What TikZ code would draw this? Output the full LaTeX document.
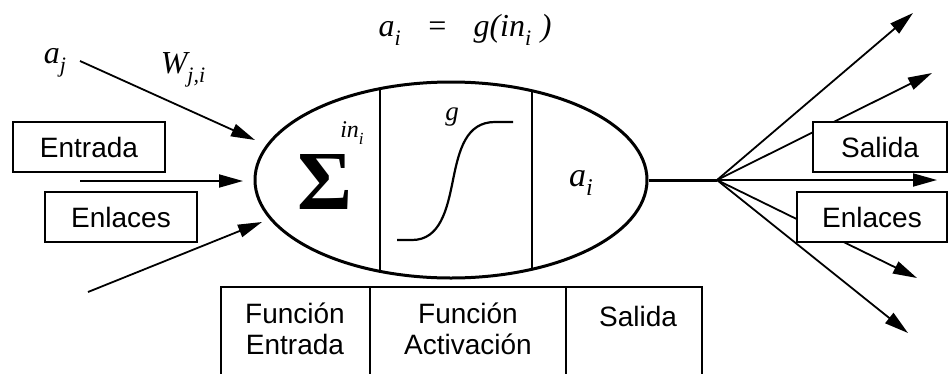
\documentclass[tikz,border=0pt]{standalone}
\usepackage{fontspec}
\setmainfont{Liberation Sans}
\newfontfamily\tms{Liberation Serif}
\newcommand{\low}[2][22]{\raisebox{-0.28em}{\fontsize{#1}{#1}\selectfont #2}}
\usetikzlibrary{arrows.meta,positioning,shapes.geometric}

\begin{document}
\begin{tikzpicture}[
  x=1pt, y=-1pt,
  font=\fontsize{28}{31}\selectfont,
  sym/.style={font=\fontsize{32}{32}\selectfont\tms\itshape, inner sep=0pt},
  box/.style={draw, fill=white, line width=1.5pt, minimum height=50pt, inner sep=0pt},
  cell/.style={align=center, inner sep=0pt},
  body/.style={draw, ellipse, line width=3pt, minimum width=392pt, minimum height=196pt, inner sep=0pt},
  link/.style={-{Triangle[length=24pt,width=13pt]}, line width=1.8pt},
  rule/.style={line width=1.5pt}
]
\useasboundingbox (0,0) rectangle (948,373);

% neuron body
\node[body] (neuron) at (451,180) {};
\draw[rule] ([shift={(-71,-91)}]neuron.center) -- ++(0,182);
\draw[rule] ([shift={(81,-89)}]neuron.center) -- ++(0,178);
\node[sym, font=\fontsize{84}{84}\selectfont\tms\bfseries] (sum) at (325,182) {Σ};
\node[sym, font=\fontsize{24}{24}\selectfont\tms\itshape] (ini) at (352,133) {in\low[17]{i}};
\node[sym, font=\fontsize{27}{27}\selectfont\tms\itshape] (glab) at (452,117) {g};
\draw[line width=2.2pt] (397,240) -- (412,240) .. controls (440,240) and (447,210) .. (453,180)
  .. controls (459,150) and (466,122) .. (495,122) -- (513,122);
\node[sym, font=\fontsize{34}{34}\selectfont\tms\itshape] (ai) at (581,183) {a\low[24]{i}};
\node[sym] (eq) at (465,30) {a\low{i}\hspace{0.8em}=\hspace{0.8em}g(in\low{i}\hspace{0.3em})};

% inputs
\node[sym] (aj) at (55,63) {a\low{j}};
\node[sym] (wji) at (183,70) {W\low{j,i}};
\coordinate (src1) at (80,61);   \coordinate (tip1) at (255,140);
\coordinate (src2) at (80,181);  \coordinate (tip2) at (243,181);
\coordinate (src3) at (88,292);  \coordinate (tip3) at (262,222);
\foreach \k in {1,2,3} \draw[link] (src\k) -- (tip\k);
\node[box, minimum width=152pt] (entrada) at (89,147) {Entrada};
\node[box, minimum width=152pt] (enlacesL) at (121,217) {Enlaces};

% outputs
\coordinate (hub) at (717,180);
\draw[line width=3pt] (neuron.east) -- (hub);
\coordinate (out1) at (913,13);
\coordinate (out2) at (932,73);
\coordinate (out3) at (937,180);
\coordinate (out4) at (917,278);
\coordinate (out5) at (908,333);
\foreach \k in {1,...,5} \draw[link] (hub) -- (out\k);
\node[box, minimum width=134pt] (salida) at (880,147) {Salida};
\node[box, minimum width=150pt] (enlacesR) at (872,217) {Enlaces};

% table below
\draw[rule] (221,380) |- (702,287) -- (702,380);
\draw[rule] (370,287) -- (370,380);
\draw[rule] (566,287) -- (566,380);
\node[cell] (fent) at (295,329) {Función\\Entrada};
\node[cell] (fact) at (468,329) {Función\\Activación};
\node[cell, anchor=base] (fsal) at (638,326) {Salida};
\end{tikzpicture}
\end{document}
